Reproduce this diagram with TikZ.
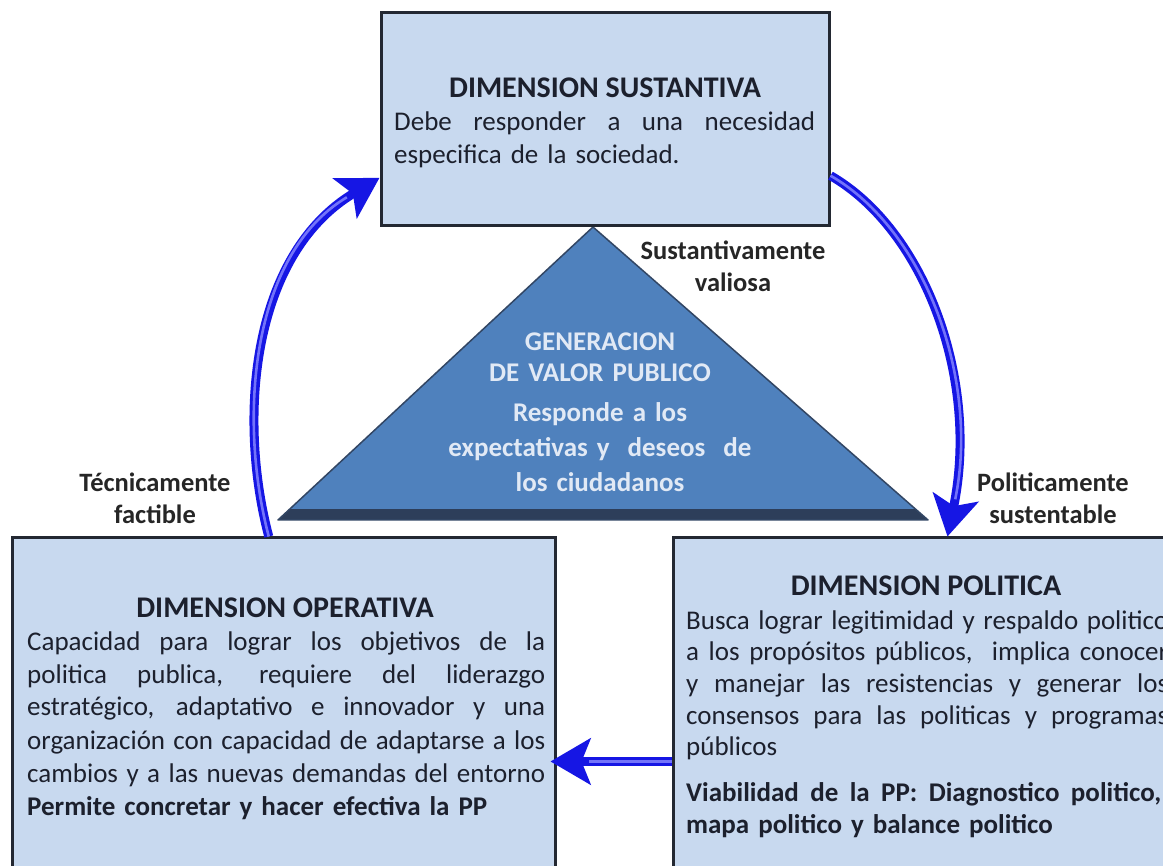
\documentclass[tikz,border=0pt]{standalone}
\usepackage{fontspec}
\setmainfont{Carlito}
\usetikzlibrary{arrows.meta,calc}
\definecolor{boxfill}{RGB}{200,217,239}
\definecolor{boxdraw}{RGB}{35,40,50}
\definecolor{trifill}{RGB}{79,129,189}
\definecolor{triband}{RGB}{45,62,90}
\definecolor{triedge}{RGB}{50,70,100}
\definecolor{tritext}{RGB}{225,233,245}
\definecolor{arrowblue}{RGB}{22,22,228}
\definecolor{arrowinner}{RGB}{115,115,250}
\definecolor{textdark}{RGB}{28,32,45}
\newcommand{\jl}[1]{\hbox to\linewidth{\spaceskip=0.23em plus 1fil minus 0.05em\relax #1}\par}
\newcommand{\jw}[2]{\hbox to #1{\spaceskip=0.23em plus 1fil minus 0.05em\relax #2}\par}
\newcommand{\nl}[1]{\hbox{#1}\par}
\begin{document}
\begin{tikzpicture}[x=1pt,y=-1pt,
  dimbox/.style={draw=boxdraw, line width=3pt, fill=boxfill, inner sep=0pt},
  boxtitle/.style={font=\fontsize{30}{36}\selectfont\bfseries, text=textdark, inner sep=0pt, anchor=base},
  boxbody/.style={font=\fontsize{27}{33}\selectfont, text=textdark, inner sep=0pt, anchor=base west},
  tritxt/.style={font=\fontsize{27}{31}\selectfont\bfseries, text=tritext, inner sep=0pt, anchor=base, text width=360pt, align=center},
  lbl/.style={font=\fontsize{26.5}{32}\selectfont\bfseries, text=black!85, inner sep=0pt, anchor=base, text width=240pt, align=center},
  flow/.style={draw=arrowblue, line width=9pt, -{Stealth[length=40pt,width=46pt,inset=9pt]}},
  flowin/.style={draw=arrowinner, line width=2.6pt, shorten >=38pt}
]
\useasboundingbox (0,0) rectangle (1163,866);
\clip (0,0) rectangle (1163,866);
\fill[white] (0,0) rectangle (1163,866);

% triangle
\coordinate (apex) at (593,227);
\coordinate (bl) at (278,520);
\coordinate (br) at (928,520);
\fill[trifill] (apex) -- (br) -- (bl) -- cycle;
\begin{scope}
  \clip (apex) -- (br) -- (bl) -- cycle;
  \fill[triband] (200,509) rectangle (1000,522);
\end{scope}
\draw[triedge, line width=1.5pt, line join=round] (apex) -- (br) -- (bl) -- cycle;

% boxes
\node[dimbox, minimum width=448pt, minimum height=213pt] (sus) at (605,119.5) {};
\node[dimbox, minimum width=543pt, minimum height=340pt] (op) at (283.5,708) {};
\node[dimbox, minimum width=510pt, minimum height=340pt] (pol) at (928,708) {};

% box texts
\node[boxtitle] (sust) at (605,98) {DIMENSION SUSTANTIVA};
\node[boxbody, text width=421pt] (susb) at (394,131) {%
\jl{Debe responder a una necesidad}%
\nl{especifica de la sociedad.}};

\node[boxtitle] (opt) at (285,617) {DIMENSION OPERATIVA};
\node[boxbody, text width=518pt] (opb) at (27,650) {%
\jl{Capacidad para lograr los objetivos de la}%
\jl{politica publica, requiere del liderazgo}%
\jl{estratégico, adaptativo e innovador y una}%
\jl{organización con capacidad de adaptarse a los}%
\jl{cambios y a las nuevas demandas del entorno}%
\nl{\bfseries Permite concretar y hacer efectiva la PP}};

\node[boxtitle] (polt) at (926,595) {DIMENSION POLITICA};
\node[boxbody, text width=482pt, font=\fontsize{27}{31.7}\selectfont] (polb) at (686,629) {%
\jl{Busca lograr legitimidad y respaldo politico}%
\jl{a los propósitos públicos,\ \ implica conocer}%
\jl{y manejar las resistencias y generar los}%
\jl{consensos para las politicas y programas}%
\nl{públicos}%
\vskip 14pt
\jw{475pt}{\bfseries Viabilidad de la PP: Diagnostico politico,}%
\nl{\bfseries mapa politico y balance politico}};

% triangle texts
\node[tritxt] (gent) at (600,351) {GENERACION\\DE VALOR PUBLICO};
\node[tritxt, font=\fontsize{27}{35}\selectfont\bfseries] (genb) at (600,422) {Responde a los\\expectativas y\ \ deseos\ \ de\\los ciudadanos};

% labels
\node[lbl] (labs) at (733,260) {Sustantivamente\\valiosa};
\node[lbl] (labt) at (155,492) {Técnicamente\\factible};
\node[lbl] (labp) at (1053,492) {Politicamente\\sustentable};

% arrows
\draw[flow] ($(op.north west)!0.473!(op.north east)$) .. controls (238,420) and (250,255) .. ($(sus.north west)!0.77!(sus.south west)$);
\draw[flowin] ($(op.north west)!0.473!(op.north east)$) .. controls (238,420) and (250,255) .. ($(sus.north west)!0.77!(sus.south west)$);

\draw[flow] ($(sus.north east)!0.76!(sus.south east)$) .. controls (925,230) and (980,380) .. ($(pol.north west)!0.538!(pol.north east)$);
\draw[flowin] ($(sus.north east)!0.76!(sus.south east)$) .. controls (925,230) and (980,380) .. ($(pol.north west)!0.538!(pol.north east)$);

\coordinate (pw) at ($(pol.north west)+(0,225)$);
\draw[flow] (pw) -- ([xshift=-6pt]pw -| op.east);
\draw[flowin] (pw) -- ([xshift=-6pt]pw -| op.east);
\end{tikzpicture}
\end{document}
